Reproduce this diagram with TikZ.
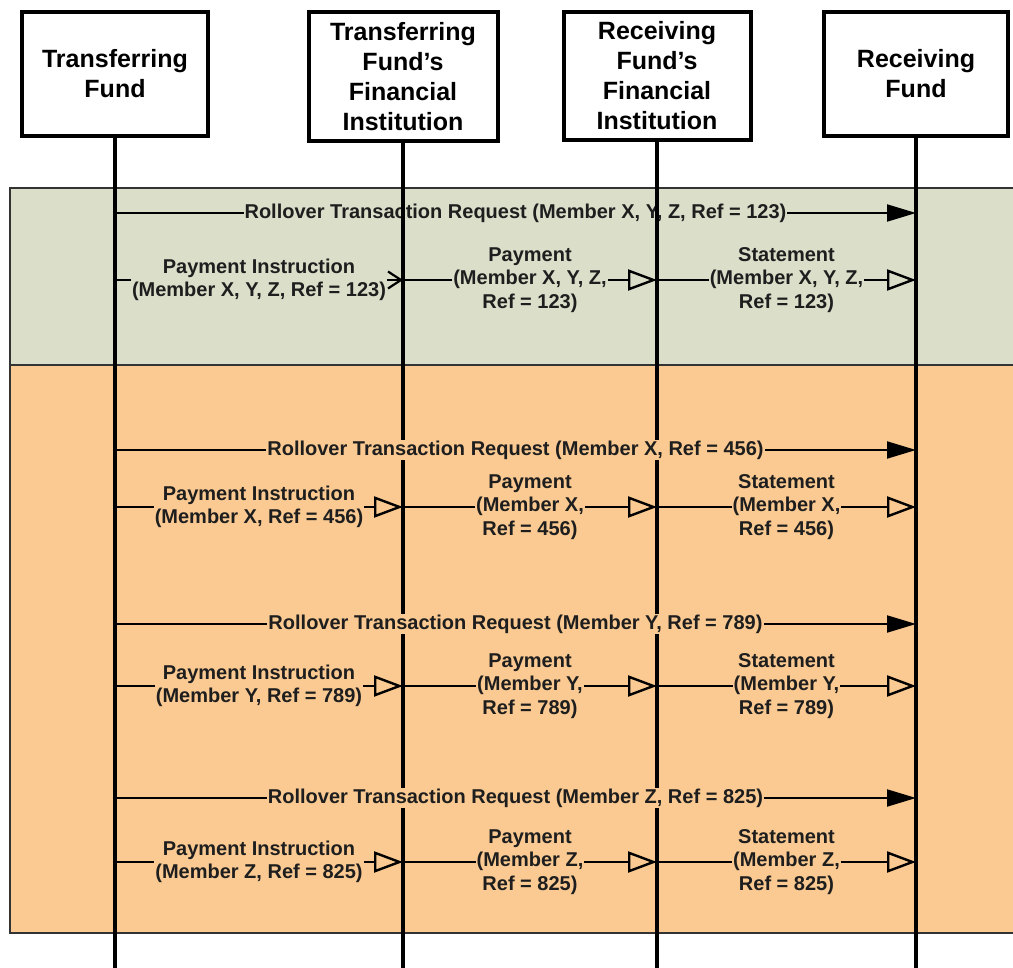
\documentclass[tikz,border=0pt]{standalone}
\usepackage{fontspec}
\setmainfont{Liberation Sans}
\usetikzlibrary{arrows.meta}
\definecolor{bandgreen}{RGB}{219,222,201}
\definecolor{bandorange}{RGB}{250,202,146}
\definecolor{txt}{RGB}{30,30,30}
\begin{document}
\begin{tikzpicture}[x=1pt,y=-1pt,
  actor/.style={draw, line width=4pt, fill=white, font=\fontsize{25}{30}\selectfont\bfseries, align=center, inner sep=0pt},
  life/.style={line width=4pt},
  msg/.style={line width=2pt},
  lbl/.style={font=\fontsize{20}{23.5}\selectfont\bfseries, text=txt, align=center, inner sep=1pt},
  req/.style={msg, -{Triangle[length=29pt,width=17pt]}},
  fwd/.style={msg, -{Triangle[open,length=29pt,width=21pt,line width=2.4pt]}},
  vhead/.style={msg, -{Straight Barb[length=13pt,width=17pt,line width=2.2pt]}},
  band/.style={draw=black!80, line width=1.2pt}]
\useasboundingbox (0,0) rectangle (1013,968);
\clip (0,0) rectangle (1013,968);
\fill[white] (0,0) rectangle (1013,968);
% bands
\draw[band, fill=bandgreen] (10,188) rectangle (1030,365);
\draw[band, fill=bandorange] (10,365) rectangle (1030,933);
% actors
\node[actor, minimum width=186pt, minimum height=124pt] (h1) at (115,74) {Transferring\\Fund};
\node[actor, minimum width=189pt, minimum height=129pt] (h2) at (403,76.5) {Transferring\\Fund’s\\Financial\\Institution};
\node[actor, minimum width=187pt, minimum height=128pt] (h3) at (657,76) {Receiving\\Fund’s\\Financial\\Institution};
\node[actor, minimum width=184pt, minimum height=124pt] (h4) at (916,74) {Receiving\\Fund};
% message end points on the lifelines
\foreach \n/\y in {g1/213, g2/280, a1/450, a2/507, b1/624, b2/686, c1/798, c2/862} {
  \coordinate (\n-1) at (115,\y);
  \coordinate (\n-2) at (403,\y);
  \coordinate (\n-3) at (657,\y);
  \coordinate (\n-4) at (916,\y);
}
\foreach \i/\x in {1/115, 2/403, 3/657, 4/916} {
  \coordinate (e\i) at (\x,975);
}
% green band messages
\draw[req] (g1-1) -- node[lbl, fill=bandgreen] (lg1) {Rollover Transaction Request (Member X, Y, Z, Ref = 123)} (g1-4);
\draw[vhead] (g2-1) -- node[lbl, fill=bandgreen] (lg2) {Payment Instruction\\(Member X, Y, Z, Ref = 123)} (g2-2);
\draw[fwd] (g2-2) -- node[lbl, fill=bandgreen] (lg3) {Payment\\(Member X, Y, Z,\\Ref = 123)} (g2-3);
\draw[fwd] (g2-3) -- node[lbl, fill=bandgreen] (lg4) {Statement\\(Member X, Y, Z,\\Ref = 123)} (g2-4);
% lifelines
\draw[life] (h1.south) -- (e1);
\draw[life] (h2.south) -- (e2);
\draw[life] (h3.south) -- (e3);
\draw[life] (h4.south) -- (e4);
% orange band messages
\foreach \r/\m/\f in {a/X/456, b/Y/789, c/Z/825} {
  \draw[req] (\r1-1) -- node[lbl, fill=bandorange] (l\r1) {Rollover Transaction Request (Member \m, Ref = \f)} (\r1-4);
  \draw[fwd] (\r2-1) -- node[lbl, fill=bandorange] (l\r2) {Payment Instruction\\(Member \m, Ref = \f)} (\r2-2);
  \draw[fwd] (\r2-2) -- node[lbl, fill=bandorange] (l\r3) {Payment\\(Member \m,\\Ref = \f)} (\r2-3);
  \draw[fwd] (\r2-3) -- node[lbl, fill=bandorange] (l\r4) {Statement\\(Member \m,\\Ref = \f)} (\r2-4);
}
\end{tikzpicture}
\end{document}
